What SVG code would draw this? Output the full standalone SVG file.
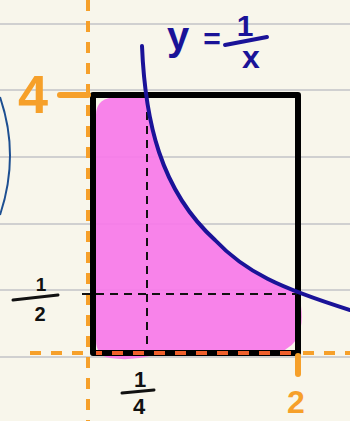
<svg xmlns="http://www.w3.org/2000/svg" width="350" height="421" viewBox="0 0 350 421">
<style>
.rule{stroke:#d0d0d0;stroke-width:2}
.orange{stroke:#f6a02a;stroke-linecap:round;fill:none}
.odash{stroke:#f6a02a;stroke-width:4;stroke-dasharray:11 10;fill:none}
.bdash{stroke:#111;stroke-width:2;stroke-dasharray:8 6;fill:none}
.blk{font-family:"Liberation Sans",Arial,sans-serif;font-weight:bold;fill:#111;text-anchor:middle}
.blu{font-family:"Liberation Sans",Arial,sans-serif;font-weight:bold;fill:#1a1398;text-anchor:middle}
.org{font-family:"Liberation Sans",Arial,sans-serif;font-weight:bold;fill:#f6a02a;text-anchor:middle}
</style>
<defs>
<clipPath id="under">
<path d="M142,46 C145,120 160,190 215,240 C245,272 280,288 350,310 L350,421 L0,421 L0,46 Z"/>
</clipPath>
</defs>
<rect width="350" height="421" fill="#f8f6eb"/>
<g id="rules">
<line class="rule" x1="0" y1="24" x2="350" y2="24"/>
<line class="rule" x1="0" y1="90" x2="350" y2="90"/>
<line class="rule" x1="0" y1="157" x2="350" y2="157"/>
<line class="rule" x1="0" y1="224" x2="350" y2="224"/>
<line class="rule" x1="0" y1="290" x2="350" y2="290"/>
<line class="rule" x1="0" y1="357" x2="350" y2="357"/>
</g>
<g id="area">
<path clip-path="url(#under)" fill="#f77ae9" opacity="0.93" d="M96,115 Q96,97 118,97 L300,97 L300,300 Q305,325 296,340 Q288,352 270,354 L150,356 Q130,361 110,358 Q96,356 96,340 Z"/>
</g>
<g id="left-arc">
<path d="M0,97 Q20,155 0,215" fill="none" stroke="#1d4f91" stroke-width="2"/>
</g>
<g id="connectors">
<line class="odash" x1="88" y1="0" x2="88" y2="421"/>
<line class="odash" x1="30" y1="353" x2="350" y2="353"/>
<rect id="box" x="93" y="95" width="205" height="258" fill="none" stroke="#000" stroke-width="6" stroke-linejoin="round"/>
<line x1="96" y1="353" x2="292" y2="353" stroke="#f0602b" stroke-width="4" stroke-dasharray="11 10" stroke-dashoffset="5"/>
<line class="bdash" x1="147" y1="98" x2="147" y2="350"/>
<line class="bdash" x1="82" y1="294" x2="297" y2="294"/>
<line class="orange" stroke-width="6" x1="60" y1="95" x2="88" y2="95"/>
<line class="orange" stroke-width="6" x1="298" y1="356" x2="298" y2="374"/>
<path id="curve" d="M142,46 C145,120 160,190 215,240 C245,272 280,288 350,310" fill="none" stroke="#1a1398" stroke-width="4" stroke-linecap="round"/>
</g>
<g id="label-y">
<text class="blu" x="178" y="50" font-size="40">y</text>
<text class="blu" x="212" y="49" font-size="30">=</text>
<text class="blu" x="245" y="36" font-size="30">1</text>
<line x1="225" y1="45" x2="267" y2="37" stroke="#1a1398" stroke-width="4" stroke-linecap="round"/>
<text class="blu" x="251" y="68" font-size="32">x</text>
</g>
<g id="label-4">
<text class="org" x="33" y="113" font-size="54">4</text>
</g>
<g id="label-2">
<text class="org" x="296" y="413" font-size="32">2</text>
</g>
<g id="label-half">
<text class="blk" x="41" y="291" font-size="19">1</text>
<line x1="13" y1="300" x2="58" y2="295" stroke="#111" stroke-width="3" stroke-linecap="round"/>
<text class="blk" x="40" y="321" font-size="20">2</text>
</g>
<g id="label-quarter">
<text class="blk" x="140" y="387" font-size="22">1</text>
<line x1="122" y1="393" x2="154" y2="390" stroke="#111" stroke-width="3" stroke-linecap="round"/>
<text class="blk" x="139" y="414" font-size="22">4</text>
</g>
</svg>
